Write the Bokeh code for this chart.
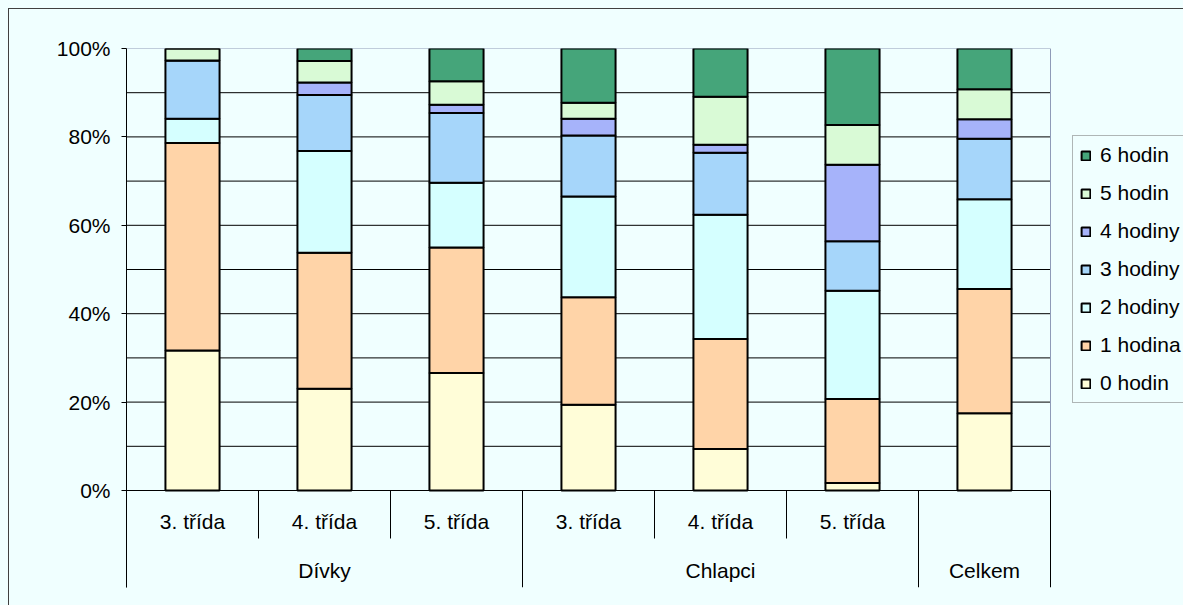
from bokeh.plotting import figure
from bokeh.models import (ColumnDataSource, Range1d, FixedTicker, PrintfTickFormatter,
                          Legend, LegendItem)
from bokeh.core.properties import value
from bokeh.embed import file_html
from bokeh.resources import INLINE

# ---- data ----
subcategories = ["3. třída", "4. třída", "5. třída", "3. třída", "4. třída", "5. třída", ""]
groups = ["Dívky", "Chlapci", "Celkem"]
group_sizes = [3, 3, 1]
series = ["0 hodin", "1 hodina", "2 hodiny", "3 hodiny", "4 hodiny", "5 hodin", "6 hodin"]

h0 = [31.7, 23.0, 26.6, 19.4, 9.4, 1.7, 17.5]
h1 = [46.9, 30.8, 28.4, 24.3, 24.9, 19.0, 28.1]
h2 = [5.5, 23.0, 14.6, 22.8, 28.1, 24.5, 20.3]
h3 = [13.2, 12.7, 15.8, 13.8, 14.0, 11.2, 13.7]
h4 = [0.0, 2.8, 1.9, 3.8, 1.8, 17.3, 4.4]
h5 = [2.7, 4.9, 5.3, 3.6, 10.9, 9.0, 6.8]
h6 = [0.0, 2.8, 7.4, 12.3, 10.9, 17.3, 9.2]
values = [h0, h1, h2, h3, h4, h5, h6]

y_ticks = [0, 20, 40, 60, 80, 100]
grid_ticks = [10, 20, 30, 40, 50, 60, 70, 80, 90]

colors = ["#FFFDD8", "#FFD4A8", "#D5FFFF", "#A6D6FA", "#A6B3FA", "#D9FAD6", "#45A57A"]
BG = "#F0FFFF"
FRAME = "#8F9BB8"
FONT = "Liberation Sans"
FS = "21px"

# ---- layout constants (pixels) ----
W, H = 1183, 605
LEFT, TOP = 126, 48
PLOT_W, PLOT_H = 924, 442     # size of the bar area (categories x 0..100 %)
SHORT_SEP, LONG_SEP = 48, 97
ROW1_Y, ROW2_Y = 31, 80
LEG_X, LEG_BOTTOM = 1072, 403

n = len(subcategories)
PX = PLOT_H / 100.0
UNIT = PLOT_W / n
y_min = -LONG_SEP / PX
x_max = (W - LEFT) / UNIT

xs = [i + 0.5 for i in range(n)]
keys = ["s%d" % i for i in range(len(series))]
data = {"x": xs}
for k, v in zip(keys, values):
    data[k] = v
source = ColumnDataSource(data)

p = figure(width=W, height=H, output_backend="svg", toolbar_location=None,
           x_range=Range1d(0, x_max), y_range=Range1d(y_min, 100),
           min_border_left=LEFT, min_border_right=0, min_border_top=TOP,
           min_border_bottom=H - TOP - PLOT_H - LONG_SEP)
p.background_fill_color = BG
p.border_fill_alpha = 0
p.outline_line_color = None
p.styles = {"background": "linear-gradient(#404040,#404040) 8px 8px / 1px 100% no-repeat, "
                          "linear-gradient(#404040,#404040) 8px 8px / 100% 1px no-repeat, " + BG}

p.xgrid.visible = False
p.ygrid.visible = False

# gridlines
p.segment(x0=[0] * len(grid_ticks), y0=grid_ticks, x1=[n] * len(grid_ticks), y1=grid_ticks,
          line_color="black", line_width=1)
# plot-area border (top and right)
p.segment(x0=[0, n], y0=[100, 0], x1=[n, n], y1=[100, 100], line_color=FRAME, line_width=1)

renderers = p.vbar_stack(keys, x="x", width=0.41, color=colors, line_color="black",
                         line_width=2, source=source)

# baseline
p.segment(x0=[0], y0=[0], x1=[n], y1=[0], line_color="black", line_width=1)

# category separators
bounds = [0]
for s in group_sizes:
    bounds.append(bounds[-1] + s)
minor = [i for i in range(1, n) if i not in bounds]
p.segment(x0=bounds, y0=[0] * len(bounds), x1=bounds, y1=[-LONG_SEP / PX] * len(bounds),
          line_color="black", line_width=1)
p.segment(x0=minor, y0=[0] * len(minor), x1=minor, y1=[-SHORT_SEP / PX] * len(minor),
          line_color="black", line_width=1)

# category labels
p.text(x=xs, y=[-ROW1_Y / PX] * n, text=subcategories, text_align="center",
       text_baseline="middle", text_font=value(FONT), text_font_size=value(FS),
       text_color="black")
gx = []
start = 0
for s in group_sizes:
    gx.append(start + s / 2.0)
    start += s
p.text(x=gx, y=[-ROW2_Y / PX] * len(groups), text=groups, text_align="center",
       text_baseline="middle", text_font=value(FONT), text_font_size=value(FS),
       text_color="black")

# y axis
p.xaxis.visible = False
yax = p.yaxis[0]
yax.ticker = FixedTicker(ticks=y_ticks)
yax.formatter = PrintfTickFormatter(format="%d%%")
yax.major_tick_in = 0
yax.major_tick_out = 5
yax.minor_tick_line_color = None
yax.axis_line_color = "black"
yax.major_tick_line_color = "black"
yax.major_label_text_font = FONT
yax.major_label_text_font_size = FS
yax.major_label_text_color = "black"
yax.major_label_standoff = 11

# legend
items = [LegendItem(label=series[i], renderers=[renderers[i]]) for i in reversed(range(len(series)))]
legend = Legend(items=items, orientation="vertical",
                location=(LEG_X - LEFT, H - p.min_border_bottom - LEG_BOTTOM))
legend.label_text_font = FONT
legend.label_text_font_size = FS
legend.label_text_color = "black"
legend.glyph_width = 11
legend.glyph_height = 11
legend.label_height = 24
legend.label_standoff = 9
legend.spacing = 14
legend.padding = 7
legend.margin = 0
legend.border_line_color = "#6E6E6E"
legend.border_line_width = 1
legend.background_fill_color = BG
legend.background_fill_alpha = 1
p.add_layout(legend, "center")

open("out.html", "w").write(file_html(p, INLINE))
